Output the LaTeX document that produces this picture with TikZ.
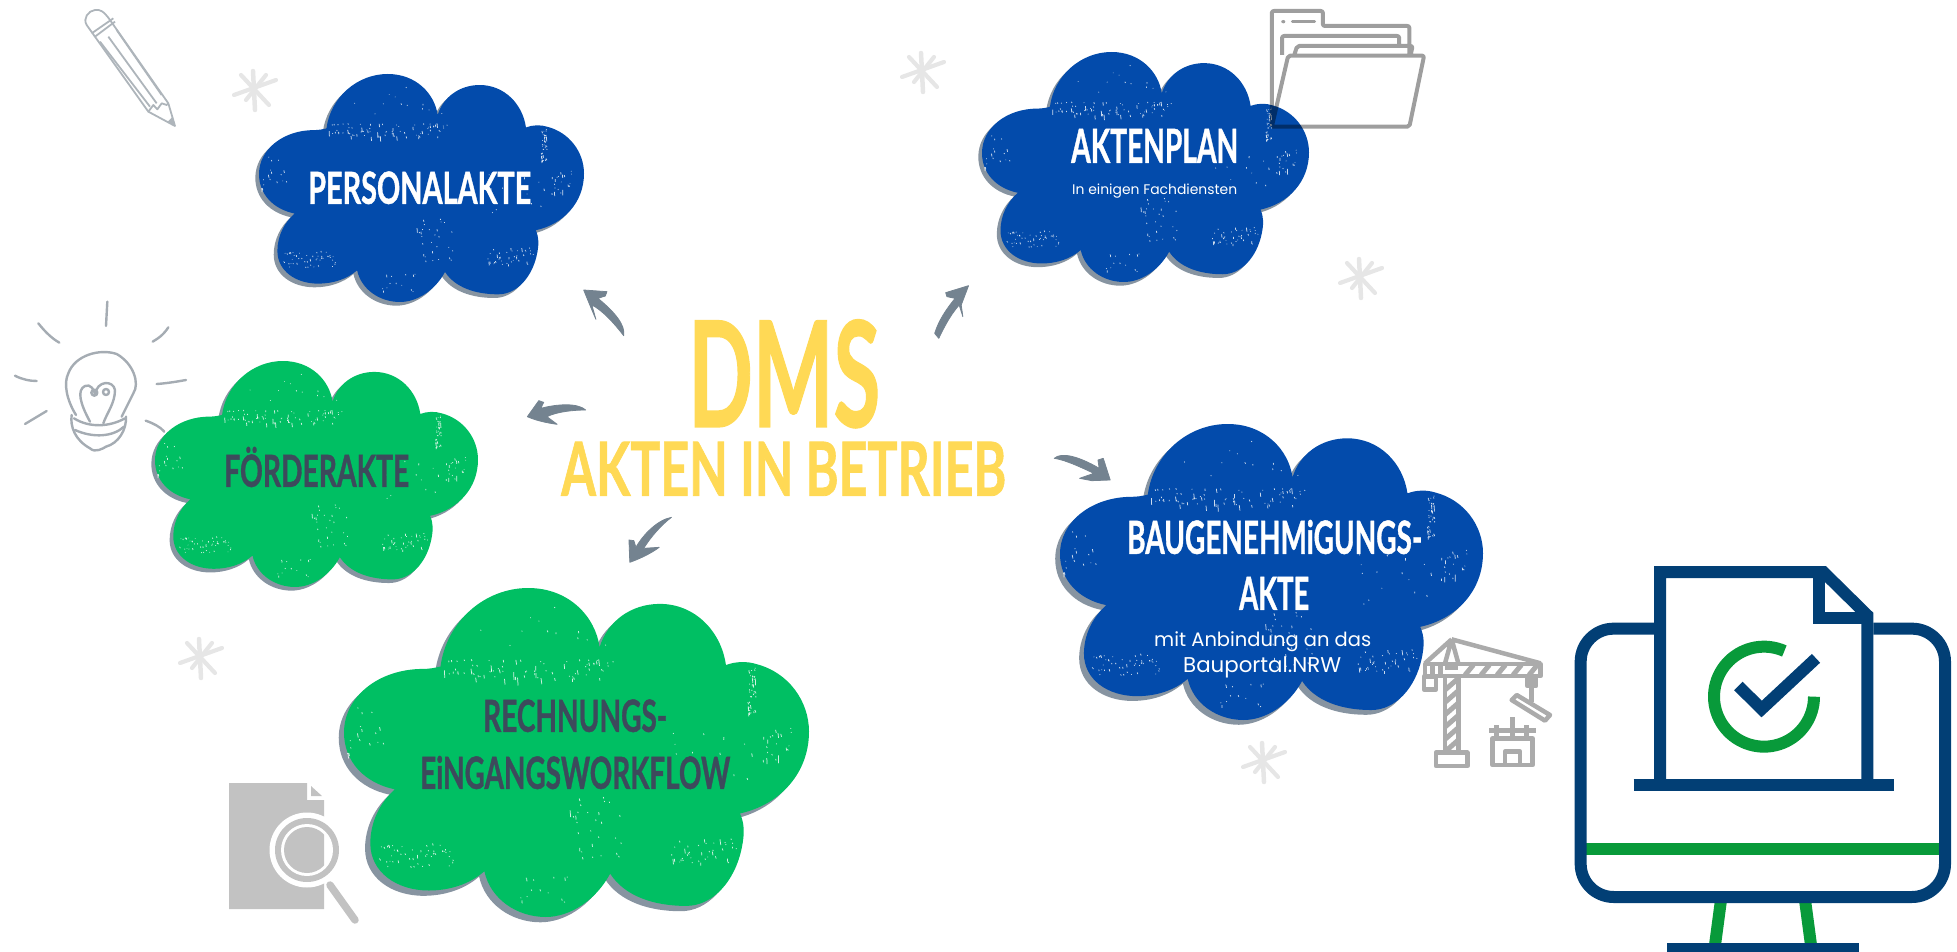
\documentclass[tikz,border=0pt]{standalone}
\usepackage{fontspec}
\usepackage{graphicx}
\newfontfamily\headfont[BoldFeatures={FakeBold=1.1}]{Lato}
\newfontfamily\handfont{Poppins}
\definecolor{cloudblue}{HTML}{034BAB}
\definecolor{cloudgreen}{HTML}{00BF63}
\definecolor{cloudshade}{HTML}{8794A1}
\definecolor{arrowgrey}{HTML}{748390}
\definecolor{inkdark}{HTML}{3D4A5C}
\definecolor{dmsyellow}{HTML}{FFD955}
\definecolor{starcol}{HTML}{E6E6E6}
\definecolor{bulbcol}{HTML}{A5ACB3}
\definecolor{pencilcol}{HTML}{AEB5BB}
\definecolor{cranecol}{HTML}{ABABAB}
\definecolor{doccol}{HTML}{C2C2C2}
\definecolor{navy}{HTML}{023F75}
\definecolor{mongreen}{HTML}{089A3A}
\newcommand{\capfit}[3]{\resizebox{#1pt}{#2pt}{\raisebox{0pt}[\fontcharht\font`H][0pt]{#3}}}
\newcommand{\cloudblob}[1]{\fill[#1] (165,163) .. controls (175,70) and (240,0) .. (315,0)
 .. controls (385,0) and (430,60) .. (437,123)
 .. controls (450,70) and (490,33) .. (540,33)
 .. controls (600,33) and (645,90) .. (653,160)
 .. controls (670,152) and (690,152) .. (705,158)
 .. controls (760,175) and (795,235) .. (795,298)
 .. controls (795,385) and (745,450) .. (677,468)
 .. controls (685,490) and (685,510) .. (680,540)
 .. controls (668,610) and (630,660) .. (585,660)
 .. controls (530,660) and (480,640) .. (455,593)
 .. controls (430,650) and (385,683) .. (345,683)
 .. controls (295,683) and (250,645) .. (240,588)
 .. controls (215,615) and (180,628) .. (145,628)
 .. controls (90,628) and (45,590) .. (45,530)
 .. controls (45,485) and (62,445) .. (87,418)
 .. controls (35,405) and (0,360) .. (0,300)
 .. controls (0,225) and (60,168) .. (135,168)
 .. controls (145,168) and (155,166) .. (165,163) -- cycle;}
\newcommand{\specks}[6]{\foreach \i in {1,...,#5}{%
  \pgfmathsetmacro{\sx}{#1+#3*rnd}\pgfmathsetmacro{\sy}{#2+#4*rnd}\pgfmathsetmacro{\sl}{1.5+#6*rnd*rnd*rnd}\pgfmathsetmacro{\sd}{1.5*rnd}%
  \draw[white,line width=0.75pt,opacity=.8] (\sx,\sy) -- ++(\sd,\sl);}}
\newcommand{\distressedcloud}[5]{%
 \begin{scope}[shift={(#1,#2)},xscale=#3/795,yscale=#4/683]
  \begin{scope}[shift={(-9,11)}]\cloudblob{cloudshade}\end{scope}
  \cloudblob{#5}
  \pgfmathsetseed{4242}
  \specks{170}{148}{290}{42}{80}{24}
  \specks{690}{165}{14}{100}{40}{18}
  \specks{715}{290}{50}{70}{20}{30}
  \specks{60}{530}{130}{50}{50}{12}
  \specks{550}{520}{125}{50}{40}{16}
  \specks{385}{430}{90}{130}{28}{36}
  \specks{5}{300}{8}{50}{5}{30}
  \specks{20}{230}{60}{100}{12}{10}
  \specks{300}{590}{90}{70}{14}{10}
  \specks{200}{30}{260}{90}{16}{10}
  \specks{560}{300}{140}{120}{16}{12}
 \end{scope}}
\newcommand{\sparkle}[2]{\begin{scope}[shift={(#1,#2)}]
 \draw[starcol,line width=4.5pt,line cap=round] (-2,-19) -- (0,20);
 \draw[starcol,line width=4.2pt,line cap=round] (-21,5) -- (21,-10);
 \draw[starcol,line width=4.2pt,line cap=round] (-14,-15) -- (14,15);
 \draw[starcol,line width=4.2pt,line cap=round] (-9,10) -- (11,-15);
 \end{scope}}
\begin{document}
\begin{tikzpicture}[x=1pt,y=-1pt,
  heading/.style={inner sep=0pt,anchor=south west,font=\headfont\bfseries},
  smalltext/.style={inner sep=0pt,anchor=base west,text=white,font=\handfont},
  brush/.style={fill=arrowgrey,draw=arrowgrey,line width=0.8pt,line join=round},
  zoomed/.style={scale=0.33333},
  wide/.style={xscale=0.40816,yscale=0.33333}]
\useasboundingbox (0,0) rectangle (1957,952);
% clouds
\distressedcloud{259}{74}{325}{228}{cloudblue}
\distressedcloud{982}{52}{327}{230}{cloudblue}
\distressedcloud{155}{361}{323}{226}{cloudgreen}
\distressedcloud{344}{588}{465}{329}{cloudgreen}
\distressedcloud{1060}{424}{423}{296}{cloudblue}
% sparkles
\sparkle{255}{90}\sparkle{923}{72}\sparkle{1361}{278}\sparkle{1264}{762}\sparkle{201}{658}
% texts
\node[heading,text=white] (personal) at (308,204) {\capfit{223}{32}{PERSONALAKTE}};
\node[heading,text=white] (akten) at (1071,163) {\capfit{167}{34}{AKTENPLAN}};
\node[smalltext] (fach) at (1072,195) {\resizebox{165pt}{!}{In einigen Fachdiensten}};
\node[heading,text=inkdark] (foerder) at (224,487) {\capfit{185}{32}{FÖRDERAKTE}};
\node[heading,text=white] (bau) at (1127,554) {\capfit{295}{33}{BAUGENEHMiGUNGS-}};
\node[heading,text=white] (akte) at (1239,610) {\capfit{70}{33}{AKTE}};
\node[smalltext] (anb) at (1154,646) {\resizebox{217pt}{!}{mit Anbindung an das}};
\node[smalltext] (portal) at (1183,672) {\resizebox{158pt}{!}{Bauportal.NRW}};
\node[heading,text=inkdark] (rech) at (483,732) {\capfit{184}{32}{RECHNUNGS-}};
\node[heading,text=inkdark] (eing) at (420,789) {\capfit{310}{32}{EiNGANGSWORKFLOW}};
\node[heading,text=dmsyellow] (dms) at (688,427) {\capfit{192}{106}{DMS}};
\node[heading,text=dmsyellow] (betrieb) at (561,496) {\capfit{445}{54}{AKTEN IN BETRIEB}};
% brush arrows
\begin{scope}[shift={(500,270)},wide]
\path[brush] (205,60) -- (262,65) -- (258,78) -- (240,85) .. controls (280,125) and (308,165) .. (303,197)
  .. controls (280,160) and (250,120) .. (225,105) -- (235,148) .. controls (225,120) and (215,90) .. cycle;
\path[brush] (67,440) -- (95,392) -- (107,397) -- (100,415) .. controls (140,402) and (190,398) .. (210,420)
  .. controls (180,420) and (140,425) .. (115,440) -- (140,463) .. controls (110,458) and (85,450) .. cycle;
\path[brush] (318,877) -- (316,810) -- (328,812) -- (333,832) .. controls (350,795) and (385,750) .. (420,742)
  .. controls (395,765) and (370,800) .. (352,835) -- (390,832) .. controls (370,850) and (345,865) .. cycle;
\path[brush] (1148,47) -- (1130,105) -- (1134,140) -- (1125,105) .. controls (1100,140) and (1085,180) .. (1075,205)
  -- (1065,190) .. controls (1075,150) and (1095,115) .. (1115,85) -- (1095,80) -- (1092,68) -- cycle;
\path[brush] (1358,565) .. controls (1375,545) and (1420,560) .. (1468,595) -- (1465,570) -- (1478,565) -- (1495,630)
  -- (1450,632) -- (1420,625) -- (1455,610) .. controls (1420,590) and (1385,570) .. cycle;
\end{scope}
% pencil
\begin{scope}[shift={(70,0)},zoomed,draw=pencilcol,line width=1.8pt,line join=round]
\draw (50,75) .. controls (38,55) and (55,32) .. (75,30) .. controls (90,28) and (100,32) .. (120,60) -- (295,310) -- (315,378) -- (235,335) -- cycle;
\draw (65,100) -- (130,55) (75,110) -- (135,65);
\draw (90,125) -- (240,320) (115,110) -- (260,310) (140,90) -- (275,285);
\draw (235,335) -- (250,315) -- (262,328) -- (275,310) -- (290,315) -- (295,310);
\fill[pencilcol] (293,365) -- (315,378) -- (308,350) -- cycle;
\end{scope}
% bulb
\begin{scope}[shift={(0,280)},zoomed,draw=bulbcol,line width=2.4pt,line cap=round,line join=round]
\draw (322,65) -- (318,138);
\draw (115,130) .. controls (135,155) and (155,175) .. (178,188);
\draw (505,142) .. controls (490,165) and (475,175) .. (458,185);
\draw (45,287) .. controls (65,298) and (90,303) .. (110,303);
\draw (470,312) .. controls (500,310) and (530,305) .. (558,300);
\draw (140,393) -- (75,432);
\draw (437,422) .. controls (460,430) and (480,440) .. (493,455);
\draw (228,405) .. controls (200,360) and (190,310) .. (205,280) .. controls (225,225) and (300,205) .. (350,222)
  .. controls (400,250) and (420,310) .. (400,340) .. controls (385,370) and (375,390) .. (365,410);
\draw (215,405) .. controls (210,440) and (225,480) .. (270,505) .. controls (285,520) and (310,505) .. (318,500) .. controls (355,490) and (380,450) .. (378,410);
\draw (222,415) .. controls (270,445) and (330,440) .. (375,415);
\draw (225,450) .. controls (280,475) and (340,470) .. (372,440);
\draw (270,425) .. controls (240,370) and (230,330) .. (255,318) .. controls (270,310) and (285,330) .. (285,345)
  .. controls (290,300) and (340,300) .. (345,330) .. controls (345,370) and (320,400) .. (310,430);
\draw (283,338) circle[radius=9];
\draw (318,336) circle[radius=9];
\end{scope}
% folder
\begin{scope}[shift={(880,0)},wide]
\draw[black,opacity=.38,line width=4pt,line join=round,rounded corners=2pt]
 (960,380) -- (960,33) -- (1085,33) -- (1085,78) -- (1297,78) -- (1297,165)
 (960,380) -- (1297,380) -- (1333,167) -- (1000,167) -- (960,380)
 (985,165) -- (985,108) -- (1272,108) -- (1272,135)
 (1015,165) -- (1022,138) -- (1305,138) -- (1300,165);
\draw[black,opacity=.38,line width=3pt,line cap=round] (1010,65) -- (1065,65);
\fill[black,opacity=.38] (988,65) circle[radius=5];
\end{scope}
% crane
\begin{scope}[shift={(1410,630)},zoomed,draw=cranecol,line width=4.5pt,line join=round]
\draw (45,102) rectangle (392,138);
\draw (125,28) -- (392,100) (125,28) -- (45,100) (125,28) -- (105,100) (125,28) -- (145,100);
\draw (42,140) rectangle (78,178);
\draw (68,102) -- (68,138) (92,102) -- (92,138);
\draw (105,138) -- (105,365) (145,138) -- (145,365);
\foreach \k in {0,...,5}{\draw[line width=5pt] (105,{180+\k*37}) -- (145,{145+\k*37});}
\foreach \k in {0,...,4}{\draw[line width=5pt] ({165+\k*48},135) -- ({190+\k*48},105);}
\fill[cranecol] (105,102) -- (145,102) -- (145,120) -- (105,120) -- cycle;
\draw (78,368) rectangle (172,408);
\draw (365,140) -- (365,215);
\draw (352,145) rectangle (378,168);
\draw (305,210) -- (320,195) -- (420,255) -- (405,272) -- cycle;
\draw (248,325) rectangle (368,405);
\draw (285,405) -- (285,365) -- (330,365) -- (330,405);
\draw (238,302) -- (378,302) (260,285) -- (260,325) (350,285) -- (350,325) (308,262) -- (308,325);
\end{scope}
% document with magnifier
\fill[doccol] (229,783) -- (307,783) -- (307,800) -- (324,800) -- (324,909) -- (229,909) -- cycle;
\fill[doccol] (311,786) -- (322,796) -- (311,796) -- cycle;
\fill[white] (307,850) circle[radius=37.5];
\fill[doccol] (307,850) circle[radius=32];
\fill[white] (307,850) circle[radius=26];
\begin{scope}
\clip (229,783) rectangle (324,909);
\fill[doccol] (307,850) circle[radius=23];
\end{scope}
\draw[doccol,line width=7.5pt,line cap=round] (330,885) -- (355,920);
% monitor
\begin{scope}[shift={(1540,540)},zoomed]
\draw[mongreen,line width=12pt] (122,926) -- (1215,926);
\draw[mongreen,line width=12pt] (543,1080) -- (525,1215);
\draw[mongreen,line width=12pt] (795,1080) -- (813,1215);
\draw[navy,line width=12pt,rounded corners=33pt] (342,266) -- (122,266) -- (122,1071) -- (1215,1071) -- (1215,266) -- (1000,266);
\draw[navy,line width=12pt,miter limit=8] (360,735) -- (360,96) -- (850,96) -- (982,226) -- (982,735);
\draw[navy,line width=12pt] (838,96) -- (838,234) -- (982,234);
\draw[navy,line width=12pt] (281,735) -- (1061,735);
\fill[navy] (380,1208) rectangle (958,1236);
\draw[mongreen,line width=12pt] plot[domain=66:360,samples=70] ({672+150*cos(\x)},{470-150*sin(\x)});
\draw[navy,line width=12pt,miter limit=6] (595,438) -- (665,507) -- (828,355);
\end{scope}
\end{tikzpicture}
\end{document}
